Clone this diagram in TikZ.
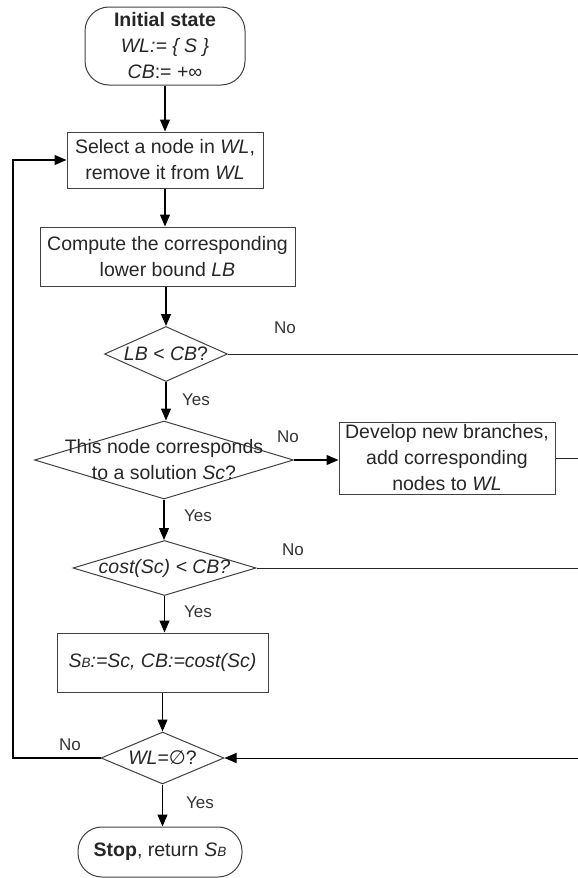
\documentclass[tikz,border=0pt]{standalone}
\usepackage{fontspec}
\setmainfont{Liberation Sans}
\newfontfamily\djv{DejaVu Sans}
\usetikzlibrary{shapes.geometric,arrows.meta}
\newcommand\mySB{S{\fontsize{13.5}{14}\selectfont B}}
\begin{document}
\begin{tikzpicture}[x=1pt,y=-1pt,
  every node/.style={font=\fontsize{19.5}{26}\selectfont, text=black!85},
  box/.style={draw=black!75,line width=1pt,rectangle,inner sep=0pt,align=center},
  term/.style={box,rounded corners=24pt},
  dec/.style={draw=black!75,line width=1pt,diamond,inner sep=0pt},
  conn/.style={line width=1.2pt,draw=black},
  side/.style={line width=1pt,draw=black!85},
  arr/.style={conn,-{Triangle[length=12pt,width=10pt]}},
  lab/.style={font=\fontsize{17}{20}\selectfont, text=black!80}]
\useasboundingbox (0,0) rectangle (578,878);

% nodes
\node[term,minimum width=160pt,minimum height=78pt] (init) at (165,46)
  {\textbf{Initial state}\\\textit{WL:= \{ S \}}\\\textit{CB}:= +∞};
\node[box,minimum width=196pt,minimum height=56pt] (select) at (165,160)
  {Select a node in \textit{WL},\\remove it from \textit{WL}};
\node[box,minimum width=255pt,minimum height=59pt] (compute) at (167.5,256.5)
  {Compute the corresponding\\lower bound \textit{LB}};
\node[dec,minimum width=123pt,minimum height=55pt,
  label={center:{\textit{LB} < \textit{CB}?}}] (LB) at (166,354) {};
\node[dec,minimum width=259pt,minimum height=78pt,
  label={[align=center]center:{This node corresponds\\to a solution \textit{Sc}?}}] (sol) at (164,460) {};
\node[box,minimum width=216pt,minimum height=72pt] (dev) at (447,458)
  {Develop new branches,\\add corresponding\\nodes to \textit{WL}};
\node[dec,minimum width=183pt,minimum height=55pt,
  label={center:{\textit{cost(Sc) < CB?}}}] (cost) at (164.5,568) {};
\node[box,minimum width=211pt,minimum height=59pt] (sb) at (162.5,662.5)
  {\textit{\mySB:=Sc, CB:=cost(Sc)}};
\node[dec,minimum width=123pt,minimum height=52pt,
  label={center:{\textit{WL}={\djv ∅}?}}] (WL) at (162.5,758) {};
\node[term,rounded corners=24pt,minimum width=164pt,minimum height=50pt] (stop) at (160,852)
  {\textbf{Stop}, return \textit{\mySB}};

% edge labels
\node[lab] (no1) at (285,328) {No};
\node[lab] (yes1) at (196,400) {Yes};
\node[lab] (no2) at (288,437) {No};
\node[lab] (yes2) at (198,516) {Yes};
\node[lab] (no3) at (293,550) {No};
\node[lab] (yes3) at (198,612) {Yes};
\node[lab] (no4) at (70,745) {No};
\node[lab] (yes4) at (200,803) {Yes};

% helper coordinates
\coordinate (edge) at (578,0);
\coordinate (lp) at (13,758);

% main column
\draw[arr] (init.south) -- (init.south |- select.north);
\draw[arr] (select.south) -- (select.south |- compute.north);
\draw[arr] (compute.south -| LB.north) -- (LB.north);
\draw[arr] (LB.south) -- (LB.south |- sol.north);
\draw[arr] (sol.south) -- (sol.south |- cost.north);
\draw[arr] (cost.south) -- (cost.south |- sb.north);
\draw[arr] (sb.south) -- (sb.south |- WL.north);
\draw[arr] (WL.south) -- (WL.south |- stop.north);

% branches
\draw[arr] (sol.east) -- (sol.east -| dev.west);
\draw[side] (LB.east) -- (LB.east -| edge);
\draw[side] (dev.east) -- (dev.east -| edge);
\draw[side] (cost.east) -- (cost.east -| edge);
\draw[arr,line width=1pt] (WL.east -| edge) -- (WL.east);

% loop back
\draw[arr] (WL.west) -- (lp) |- (select.west);
\end{tikzpicture}
\end{document}
